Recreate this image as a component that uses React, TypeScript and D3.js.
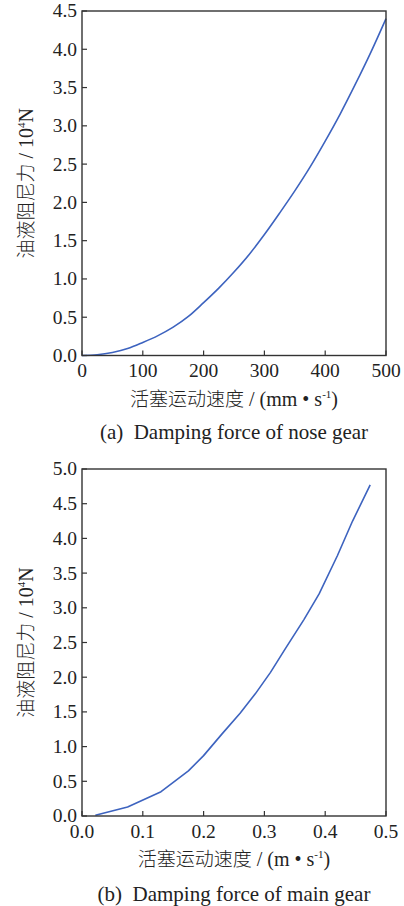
import React from "react";
import * as d3 from "d3";

const noseSpeed = [0, 25, 50, 75, 100, 125, 150, 175, 200, 225, 250, 275, 300, 325, 350, 375, 400, 425, 450, 475, 500];
const noseForce = [0, 0.01, 0.04, 0.09, 0.17, 0.26, 0.37, 0.51, 0.69, 0.88, 1.09, 1.32, 1.58, 1.86, 2.15, 2.46, 2.8, 3.16, 3.55, 3.96, 4.4];

const mainSpeed = [0.022, 0.075, 0.13, 0.175, 0.2, 0.23, 0.26, 0.285, 0.31, 0.335, 0.365, 0.39, 0.42, 0.445, 0.474];
const mainForce = [0.01, 0.13, 0.35, 0.65, 0.87, 1.18, 1.48, 1.76, 2.07, 2.42, 2.83, 3.2, 3.75, 4.25, 4.77];

const noseXTicks = [0, 100, 200, 300, 400, 500];
const noseYTicks = [0, 0.5, 1.0, 1.5, 2.0, 2.5, 3.0, 3.5, 4.0, 4.5];
const mainXTicks = [0, 0.1, 0.2, 0.3, 0.4, 0.5];
const mainYTicks = [0, 0.5, 1.0, 1.5, 2.0, 2.5, 3.0, 3.5, 4.0, 4.5, 5.0];

const yLabelCn = "油液阻尼力";
const yLabelUnit = " / 10";
const xLabelCn = "活塞运动速度";
const captionA = "(a)  Damping force of nose gear";
const captionB = "(b)  Damping force of main gear";

const FONT = "'Liberation Serif', 'Times New Roman', 'Noto Sans CJK SC', serif";
const CJK = "'Noto Sans CJK SC', sans-serif";
const LINE = "#3d63bf";
const AXIS = "#333333";

type PanelProps = {
  top: number;
  bottom: number;
  xs: number[];
  ys: number[];
  xDomain: [number, number];
  yDomain: [number, number];
  xTicks: number[];
  yTicks: number[];
  xFmt: (v: number) => string;
  unit: string;
  caption: string;
  smooth: boolean;
  captionOffset: number;
  tickOffset: number;
};

function Panel(p: PanelProps) {
  const left = 82;
  const right = 386;
  const x = d3.scaleLinear().domain(p.xDomain).range([left, right]);
  const y = d3.scaleLinear().domain(p.yDomain).range([p.bottom, p.top]);
  const pts = p.xs.map((v, i) => [v, p.ys[i]] as [number, number]);
  const line = d3
    .line<[number, number]>()
    .x((d) => x(d[0]))
    .y((d) => y(d[1]))
    .curve(p.smooth ? d3.curveMonotoneX : d3.curveLinear);
  const yf = d3.format(".1f");
  const cy = (p.top + p.bottom) / 2;
  const cx = (left + right) / 2;
  return (
    <g>
      <path d={line(pts) || ""} fill="none" stroke={LINE} strokeWidth={1.6} strokeLinejoin="round" />
      <rect x={left} y={p.top} width={right - left} height={p.bottom - p.top} fill="none" stroke={AXIS} strokeWidth={1.4} />
      {p.xTicks.map((t) => (
        <g key={"x" + t}>
          <line x1={x(t)} x2={x(t)} y1={p.bottom} y2={p.bottom - 5} stroke={AXIS} strokeWidth={1.2} />
          <text x={x(t)} y={p.bottom + p.tickOffset} textAnchor="middle" fontSize={19.5} fill="#222">
            {p.xFmt(t)}
          </text>
        </g>
      ))}
      {p.yTicks.map((t) => (
        <g key={"y" + t}>
          <line x1={left} x2={left + 5} y1={y(t)} y2={y(t)} stroke={AXIS} strokeWidth={1.2} />
          <text x={77} y={y(t)} dy="0.33em" textAnchor="end" fontSize={19.5} fill="#222">
            {yf(t)}
          </text>
        </g>
      ))}
      <text transform={`translate(33,${cy}) rotate(-90)`} textAnchor="middle" fontSize={20} fill="#222">
        <tspan fontFamily={CJK} fontWeight={300} fontSize={19}>{yLabelCn}</tspan>
        <tspan>{yLabelUnit}</tspan>
        <tspan fontSize={11} dy={-8}>4</tspan>
        <tspan dy={8}>N</tspan>
      </text>
      <text x={cx} y={p.bottom + 50} textAnchor="middle" fontSize={20} fill="#222">
        <tspan fontFamily={CJK} fontWeight={300} fontSize={19}>{xLabelCn}</tspan>
        <tspan>{" / (" + p.unit + " • s"}</tspan>
        <tspan fontSize={11} dy={-8}>-1</tspan>
        <tspan dy={8}>)</tspan>
      </text>
      <text x={cx} y={p.bottom + p.captionOffset} textAnchor="middle" fontSize={21} fill="#222" style={{ whiteSpace: "pre" }}>
        {p.caption}
      </text>
    </g>
  );
}

export default function App() {
  return (
    <svg width={404} height={906} style={{ position: "absolute", left: 0, top: 0, background: "#fff" }} fontFamily={FONT}>
      <rect x={0} y={0} width={404} height={906} fill="#fff" />
      <Panel
        top={11}
        bottom={355.5}
        xs={noseSpeed}
        ys={noseForce}
        xDomain={[0, 500]}
        yDomain={[0, 4.5]}
        xTicks={noseXTicks}
        yTicks={noseYTicks}
        xFmt={(v) => String(v)}
        unit="mm"
        caption={captionA}
        smooth={true}
        captionOffset={83}
        tickOffset={21.5}
      />
      <Panel
        top={469}
        bottom={816}
        xs={mainSpeed}
        ys={mainForce}
        xDomain={[0, 0.5]}
        yDomain={[0, 5]}
        xTicks={mainXTicks}
        yTicks={mainYTicks}
        xFmt={d3.format(".1f")}
        unit="m"
        caption={captionB}
        smooth={false}
        captionOffset={85}
        tickOffset={22}
      />
    </svg>
  );
}
